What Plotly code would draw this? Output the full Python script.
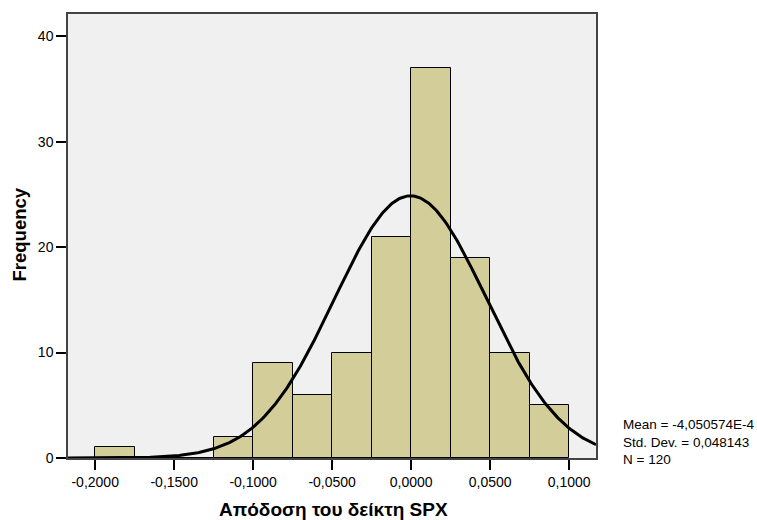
import numpy as np
import plotly.graph_objects as go

# Histogram data (bin width 0.025)
bin_left = [-0.200, -0.175, -0.150, -0.125, -0.100, -0.075, -0.050, -0.025, 0.000, 0.025, 0.050, 0.075]
counts = [1, 0, 0, 2, 9, 6, 10, 21, 37, 19, 10, 5]
bin_width = 0.025
mean = -4.050574e-4
std = 0.048143
n = 120

x_ticks = [-0.20, -0.15, -0.10, -0.05, 0.0, 0.05, 0.10]
x_ticktext = ["-0,2000", "-0,1500", "-0,1000", "-0,0500", "0,0000", "0,0500", "0,1000"]
y_ticks = [0, 10, 20, 30, 40]

xr = [-0.2172, 0.117]
yr = [0, 42.1]

centers = [b + bin_width / 2 for b in bin_left]

xs = np.linspace(xr[0], xr[1], 400)
ys = n * bin_width / (std * np.sqrt(2 * np.pi)) * np.exp(-0.5 * ((xs - mean) / std) ** 2)

fig = go.Figure()
fig.add_trace(go.Bar(
    x=centers, y=counts, width=bin_width,
    marker=dict(color="#D3CE99", line=dict(color="black", width=1)),
    hoverinfo="skip",
))
fig.add_trace(go.Scatter(
    x=xs, y=ys, mode="lines", line=dict(color="black", width=3), hoverinfo="skip",
))

fig.update_layout(
    width=757, height=520,
    margin=dict(l=68, r=161, t=14, b=62),
    paper_bgcolor="white", plot_bgcolor="#F0F0F0",
    showlegend=False,
    font=dict(family="Liberation Sans, Arial, sans-serif", size=13.5, color="black"),
    bargap=0,
)
fig.update_xaxes(
    range=xr, tickvals=x_ticks, ticktext=x_ticktext,
    ticks="outside", ticklen=10, tickwidth=1.5, tickcolor="black",
    showgrid=False, zeroline=False, automargin=False,
    showline=True, linecolor="#444444", linewidth=1.5, mirror=True,
    tickfont=dict(size=14),
)
fig.update_yaxes(
    range=yr, tickvals=y_ticks,
    ticks="outside", ticklen=10, tickwidth=1.5, tickcolor="black",
    showgrid=False, zeroline=False, automargin=False,
    showline=True, linecolor="#444444", linewidth=1.5, mirror=True,
    tickfont=dict(size=14),
)
fig.add_annotation(
    xref="paper", yref="paper", x=0.503, y=-0.1149,
    xanchor="center", yanchor="middle", showarrow=False,
    text="<b>Απόδοση του δείκτη SPX</b>", font=dict(size=19),
)
fig.add_annotation(
    xref="paper", yref="paper", x=-0.0919, y=0.5045, textangle=-90,
    xanchor="center", yanchor="middle", showarrow=False,
    text="<b>Frequency</b>", font=dict(size=18.5),
)
fig.add_annotation(
    xref="paper", yref="paper", x=1.0, y=0.036, xshift=25,
    xanchor="left", yanchor="middle", align="left", showarrow=False,
    text="Mean = -4,050574E-4<br>Std. Dev. = 0,048143<br>N = 120",
    font=dict(size=13.5),
)

fig.write_html("out.html")
